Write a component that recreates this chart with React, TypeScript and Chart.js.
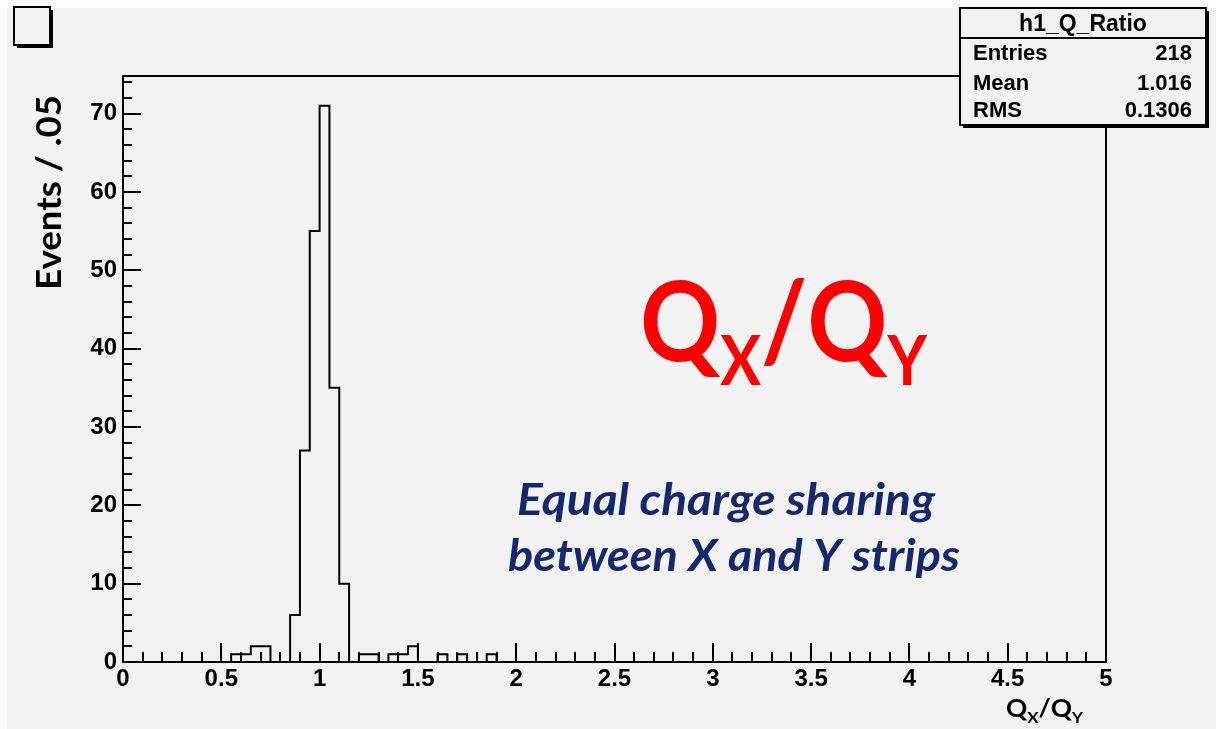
import React, { useEffect, useRef } from "react";
import { Chart, registerables } from "chart.js";

Chart.register(...registerables);

// ---- data ----
const BIN_WIDTH = 0.05;
const N_BINS = 100;
const X_MIN = 0;
const X_MAX = 5;
const Y_MAX = 74.8;

const filledBinLowEdges = [0.55, 0.6, 0.65, 0.7, 0.85, 0.9, 0.95, 1.0, 1.05, 1.1, 1.2, 1.25, 1.35, 1.4, 1.45, 1.6, 1.7, 1.85];
const filledBinCounts = [1, 1, 2, 2, 6, 27, 55, 71, 35, 10, 1, 1, 1, 1, 2, 1, 1, 1];

const xTickValues = [0, 0.5, 1, 1.5, 2, 2.5, 3, 3.5, 4, 4.5, 5];
const xTickLabels = ["0", "0.5", "1", "1.5", "2", "2.5", "3", "3.5", "4", "4.5", "5"];
const yTickValues = [0, 10, 20, 30, 40, 50, 60, 70];
const yTickLabels = ["0", "10", "20", "30", "40", "50", "60", "70"];

const statTitle = "h1_Q_Ratio";
const statNames = ["Entries", "Mean", "RMS"];
const statValues = ["218", "1.016", "0.1306"];

const yTitle = "Events / .05";
const noteLines = ["Equal charge sharing", "between X and Y strips"];

// ---- styling ----
const BG = "#f2f2f2";
const TICK_FONT = "Liberation Sans";
const TEXT_FONT = "Lato";

function buildPoints() {
  const counts: number[] = new Array(N_BINS).fill(0);
  filledBinLowEdges.forEach((e, i) => {
    counts[Math.round(e / BIN_WIDTH)] = filledBinCounts[i];
  });
  const pts = counts.map((c, i) => ({ x: X_MIN + i * BIN_WIDTH, y: c }));
  pts.push({ x: X_MAX, y: 0 });
  return pts;
}

function fitText(ctx: CanvasRenderingContext2D, text: string, x: number, y: number, target: number) {
  const w = ctx.measureText(text).width;
  const sx = target / w;
  ctx.save();
  ctx.translate(x, y);
  ctx.scale(sx, 1);
  ctx.fillText(text, 0, 0);
  ctx.restore();
}

// draws Q_X/Q_Y style text composed of parts
function drawRatio(
  ctx: CanvasRenderingContext2D,
  x: number,
  baseline: number,
  subBaseline: number,
  big: number,
  small: number,
  target: number,
  color: string
) {
  const parts: [string, boolean][] = [
    ["Q", false],
    ["X", true],
    ["/", false],
    ["Q", false],
    ["Y", true],
  ];
  const fontBig = `bold ${big}px ${TEXT_FONT}`;
  const fontSmall = `bold ${small}px ${TEXT_FONT}`;
  let total = 0;
  const widths = parts.map(([t, sub]) => {
    ctx.font = sub ? fontSmall : fontBig;
    const w = ctx.measureText(t).width;
    total += w;
    return w;
  });
  const sx = target / total;
  ctx.save();
  ctx.translate(x, 0);
  ctx.scale(sx, 1);
  ctx.fillStyle = color;
  ctx.textAlign = "left";
  ctx.textBaseline = "alphabetic";
  let cx = 0;
  parts.forEach(([t, sub], i) => {
    ctx.font = sub ? fontSmall : fontBig;
    ctx.fillText(t, cx, sub ? subBaseline : baseline);
    cx += widths[i];
  });
  ctx.restore();
}

const decorPlugin = {
  id: "rootDecor",
  beforeDraw(chart: any) {
    const ctx: CanvasRenderingContext2D = chart.ctx;
    ctx.save();
    ctx.fillStyle = "#fbfbfb";
    ctx.fillRect(0, 0, chart.width, chart.height);
    ctx.fillStyle = BG;
    ctx.fillRect(7, 8, chart.width - 7, chart.height - 8);
    ctx.restore();
  },
  afterDatasetsDraw(chart: any) {
    const ctx: CanvasRenderingContext2D = chart.ctx;
    const { left, right, top, bottom } = chart.chartArea;
    const xs = chart.scales.x;
    const ys = chart.scales.y;
    ctx.save();
    ctx.strokeStyle = "#000";
    ctx.lineWidth = 2;
    // x ticks (inward)
    for (let k = 0; k <= 50; k++) {
      const v = k * 0.1;
      const px = Math.round(xs.getPixelForValue(v));
      const len = k % 5 === 0 ? 19 : 10;
      ctx.beginPath();
      ctx.moveTo(px, bottom);
      ctx.lineTo(px, bottom - len);
      ctx.stroke();
    }
    // y ticks (inward)
    for (let k = 0; k * 2 <= Y_MAX; k++) {
      const v = k * 2;
      const py = Math.round(ys.getPixelForValue(v));
      const len = k % 5 === 0 ? 18 : 9;
      ctx.beginPath();
      ctx.moveTo(left, py);
      ctx.lineTo(left + len, py);
      ctx.stroke();
    }
    // frame
    ctx.strokeRect(left, top, right - left, bottom - top);
    ctx.restore();
  },
  afterDraw(chart: any) {
    const ctx: CanvasRenderingContext2D = chart.ctx;
    ctx.save();

    // top-left empty title box
    ctx.fillStyle = "#000";
    ctx.fillRect(17, 10, 36, 38);
    ctx.fillStyle = BG;
    ctx.fillRect(14, 7, 36, 38);
    ctx.strokeStyle = "#000";
    ctx.lineWidth = 2;
    ctx.strokeRect(14, 7, 36, 38);

    // stat box
    const bx = 960, by = 8, bw = 246, bh = 117;
    ctx.fillStyle = "#000";
    ctx.fillRect(bx + 3, by + 3, bw, bh);
    ctx.fillStyle = BG;
    ctx.fillRect(bx, by, bw, bh);
    ctx.strokeRect(bx, by, bw, bh);
    ctx.beginPath();
    ctx.moveTo(bx, by + 30);
    ctx.lineTo(bx + bw, by + 30);
    ctx.stroke();
    ctx.fillStyle = "#000";
    ctx.font = `bold 23px ${TICK_FONT}`;
    ctx.textAlign = "center";
    ctx.textBaseline = "alphabetic";
    ctx.fillText(statTitle, bx + bw / 2, by + 23);
    ctx.font = `bold 22px ${TICK_FONT}`;
    const rowBase = [60, 90, 117];
    statNames.forEach((n, i) => {
      ctx.textAlign = "left";
      ctx.fillText(n, 973, rowBase[i]);
      ctx.textAlign = "right";
      ctx.fillText(statValues[i], 1192, rowBase[i]);
    });

    // y title
    ctx.save();
    ctx.translate(61, 192.5);
    ctx.rotate(-Math.PI / 2);
    ctx.font = `bold 34px ${TEXT_FONT}`;
    ctx.textAlign = "left";
    ctx.textBaseline = "alphabetic";
    ctx.fillStyle = "#000";
    const tw = 195;
    fitText(ctx, yTitle, -tw / 2, 0, tw);
    ctx.restore();

    // x title
    drawRatio(ctx, 1006, 717, 723, 25, 16, 77, "#000");

    // big red label
    drawRatio(ctx, 640, 361, 385, 111, 68, 287, "#ff0000");

    // note text
    ctx.fillStyle = "#14286b";
    ctx.font = `italic bold 43px ${TEXT_FONT}`;
    ctx.textAlign = "left";
    ctx.textBaseline = "alphabetic";
    fitText(ctx, noteLines[0], 517, 515, 418);
    fitText(ctx, noteLines[1], 508, 571, 452);

    ctx.restore();
  },
};

export default function App() {
  const canvasRef = useRef<HTMLCanvasElement | null>(null);

  useEffect(() => {
    if (!canvasRef.current) return;
    const chart = new Chart(canvasRef.current, {
      type: "line",
      data: {
        datasets: [
          {
            data: buildPoints(),
            stepped: "before",
            borderColor: "#000",
            borderWidth: 2,
            pointRadius: 0,
            fill: false,
            tension: 0,
          } as any,
        ],
      },
      options: {
        animation: false,
        responsive: false,
        devicePixelRatio: 1,
        layout: { padding: { top: 76, right: 110, bottom: 0, left: 0 } },
        plugins: {
          legend: { display: false },
          tooltip: { enabled: false },
          title: { display: false },
        },
        scales: {
          x: {
            type: "linear",
            min: X_MIN,
            max: X_MAX,
            grid: { display: false, drawTicks: false },
            border: { display: false },
            afterBuildTicks: (s: any) => {
              s.ticks = xTickValues.map((v) => ({ value: v }));
            },
            afterFit: (s: any) => {
              s.height = 67;
            },
            ticks: {
              autoSkip: false,
              maxRotation: 0,
              padding: 3,
              color: "#000",
              font: { family: TICK_FONT, size: 24, weight: "bold" },
              callback: (v: any) => xTickLabels[xTickValues.indexOf(Number(v))] ?? "",
            },
          },
          y: {
            type: "linear",
            min: 0,
            max: Y_MAX,
            grid: { display: false, drawTicks: false },
            border: { display: false },
            afterBuildTicks: (s: any) => {
              s.ticks = yTickValues.map((v) => ({ value: v }));
            },
            afterFit: (s: any) => {
              s.width = 123;
            },
            ticks: {
              autoSkip: false,
              padding: 6,
              color: "#000",
              font: { family: TICK_FONT, size: 24, weight: "bold" },
              callback: (v: any) => yTickLabels[yTickValues.indexOf(Number(v))] ?? "",
            },
          },
        },
      } as any,
      plugins: [decorPlugin],
    });
    return () => chart.destroy();
  }, []);

  return (
    <div style={{ position: "absolute", left: 0, top: 0, width: 1216, height: 729 }}>
      <canvas ref={canvasRef} width={1216} height={729} style={{ display: "block" }} />
    </div>
  );
}
